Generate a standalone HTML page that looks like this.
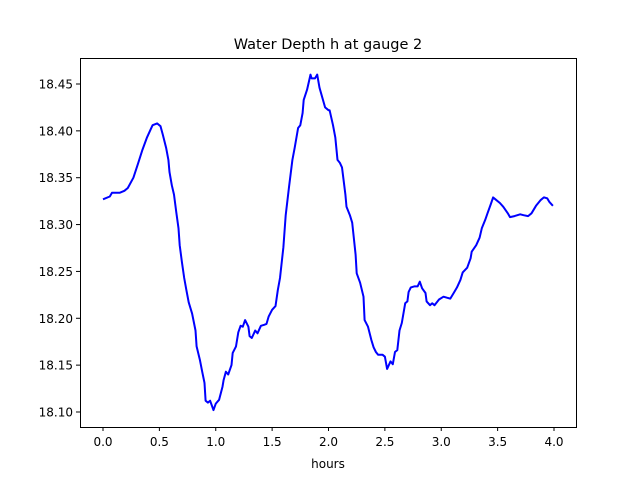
<!DOCTYPE html>
<html><head><meta charset="utf-8"><style>
body{margin:0;background:#fff}
svg text{font-family:"DejaVu Sans","Liberation Sans",sans-serif;fill:#000}
</style></head><body>
<svg id="chart" width="640" height="480">
<rect width="640" height="480" fill="#fff"/>
<text x="328" y="49" font-size="14.5" text-anchor="middle">Water Depth h at gauge 2</text>
<text x="328" y="468" font-size="12" text-anchor="middle">hours</text>
<g id="ticks"></g>
<path id="line" fill="none" stroke="#0000ff" stroke-width="2" stroke-linejoin="round"/>
<rect x="80.5" y="58.5" width="496" height="369" fill="none" stroke="#000" stroke-width="1"/>
</svg>
<script>
const hours=[0.00,0.06,0.08,0.15,0.19,0.22,0.27,0.31,0.35,0.39,0.42,0.44,0.48,0.51,0.53,0.56,0.58,0.59,0.61,0.63,0.65,0.67,0.68,0.70,0.72,0.74,0.76,0.79,0.82,0.83,0.86,0.88,0.90,0.91,0.93,0.95,0.98,1.00,1.03,1.06,1.07,1.09,1.11,1.14,1.15,1.18,1.20,1.22,1.24,1.26,1.29,1.30,1.32,1.35,1.37,1.40,1.43,1.45,1.47,1.50,1.53,1.55,1.57,1.60,1.62,1.65,1.68,1.70,1.73,1.75,1.77,1.78,1.81,1.84,1.85,1.88,1.90,1.92,1.97,2.00,2.01,2.04,2.06,2.08,2.10,2.12,2.15,2.16,2.19,2.21,2.24,2.25,2.28,2.31,2.32,2.35,2.38,2.40,2.42,2.44,2.48,2.50,2.52,2.55,2.57,2.59,2.61,2.63,2.65,2.68,2.70,2.71,2.73,2.76,2.79,2.81,2.83,2.86,2.87,2.90,2.92,2.94,2.98,3.02,3.05,3.08,3.11,3.14,3.17,3.19,3.23,3.26,3.27,3.31,3.34,3.36,3.39,3.41,3.44,3.46,3.48,3.52,3.55,3.59,3.61,3.65,3.70,3.73,3.77,3.80,3.84,3.88,3.91,3.94,3.96,3.99];
const depth=[18.327,18.330,18.334,18.334,18.336,18.339,18.350,18.365,18.380,18.393,18.401,18.406,18.408,18.405,18.396,18.382,18.369,18.356,18.342,18.332,18.313,18.296,18.278,18.260,18.243,18.230,18.217,18.205,18.187,18.170,18.155,18.143,18.131,18.112,18.110,18.112,18.102,18.109,18.113,18.127,18.134,18.143,18.140,18.150,18.163,18.170,18.185,18.192,18.191,18.198,18.191,18.181,18.179,18.187,18.184,18.192,18.193,18.194,18.202,18.209,18.213,18.230,18.243,18.276,18.310,18.340,18.369,18.382,18.403,18.406,18.419,18.433,18.444,18.460,18.456,18.456,18.460,18.446,18.425,18.422,18.422,18.406,18.393,18.369,18.366,18.361,18.332,18.319,18.310,18.302,18.268,18.248,18.238,18.223,18.198,18.191,18.177,18.169,18.164,18.161,18.161,18.159,18.146,18.154,18.151,18.164,18.166,18.187,18.195,18.216,18.218,18.228,18.233,18.234,18.234,18.239,18.232,18.227,18.218,18.214,18.216,18.214,18.220,18.223,18.222,18.221,18.227,18.233,18.241,18.249,18.254,18.264,18.271,18.278,18.286,18.296,18.305,18.312,18.322,18.329,18.327,18.323,18.319,18.312,18.308,18.309,18.311,18.310,18.309,18.312,18.320,18.326,18.329,18.328,18.324,18.320];
const xTicks=[0,0.5,1,1.5,2,2.5,3,3.5,4];
const xTickLabels=["0.0","0.5","1.0","1.5","2.0","2.5","3.0","3.5","4.0"];
const yTicks=[18.10,18.15,18.20,18.25,18.30,18.35,18.40,18.45];
const yTickLabels=["18.10","18.15","18.20","18.25","18.30","18.35","18.40","18.45"];
const X=h=>103+h*112.75;
const Y=v=>84+(18.45-v)*937.1;
const ns="http://www.w3.org/2000/svg";
const g=document.getElementById('ticks');
xTicks.forEach((t,i)=>{
  const l=document.createElementNS(ns,'line');
  
  
  l.setAttribute('x1',X(t));l.setAttribute('x2',X(t));l.setAttribute('y1',427);l.setAttribute('y2',431);l.setAttribute('stroke','#000');
  g.appendChild(l);
  const tx=document.createElementNS(ns,'text');
  
  
  tx.setAttribute('x',X(t));tx.setAttribute('y',446);tx.setAttribute('font-size','12');tx.setAttribute('text-anchor','middle');
  tx.textContent=xTickLabels[i];g.appendChild(tx);
});
yTicks.forEach((t,i)=>{
  const l=document.createElementNS(ns,'line');
  
  
  l.setAttribute('x1',76);l.setAttribute('x2',80);l.setAttribute('y1',Y(t));l.setAttribute('y2',Y(t));l.setAttribute('stroke','#000');
  g.appendChild(l);
  const tx=document.createElementNS(ns,'text');
  
  
  tx.setAttribute('x',73);tx.setAttribute('y',Y(t)+4.5);tx.setAttribute('font-size','12');tx.setAttribute('text-anchor','end');
  tx.textContent=yTickLabels[i];g.appendChild(tx);
});
document.getElementById('line').setAttribute('d',hours.map((h,i)=>(i?'L':'M')+X(h).toFixed(1)+','+Y(depth[i]).toFixed(1)).join(''));
</script>
</body></html>
